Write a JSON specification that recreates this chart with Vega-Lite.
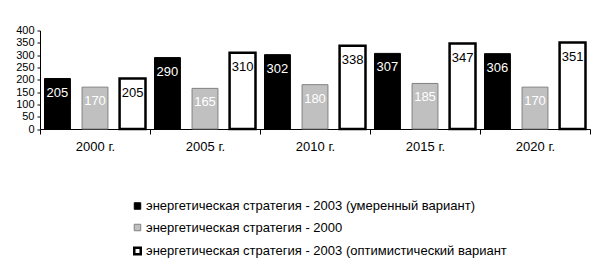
{
  "$schema": "https://vega.github.io/schema/vega-lite/v6.json",
  "width": 550,
  "height": 98.5,
  "autosize": {"type": "none"},
  "padding": {"left": 40, "top": 30.5, "right": 23, "bottom": 150},
  "background": "white",
  "config": {
    "view": {"stroke": null},
    "font": "Liberation Sans",
    "axis": {"labelFont": "Liberation Sans", "labelFontSize": 13, "labelColor": "black", "domainColor": "black", "tickColor": "black", "grid": false, "title": null},
    "axisQuantitative": {"labelOverlap": false, "labelSeparation": -6},
    "legend": {"labelFont": "Liberation Sans", "labelFontSize": 13, "labelColor": "black"}
  },
  "data": {
    "values": [
      {"year": "2000 г.", "s": "энергетическая стратегия - 2003 (умеренный вариант)", "v": 205},
      {"year": "2000 г.", "s": "энергетическая стратегия - 2000", "v": 170},
      {"year": "2000 г.", "s": "энергетическая стратегия - 2003 (оптимистический вариант", "v": 205},
      {"year": "2005 г.", "s": "энергетическая стратегия - 2003 (умеренный вариант)", "v": 290},
      {"year": "2005 г.", "s": "энергетическая стратегия - 2000", "v": 165},
      {"year": "2005 г.", "s": "энергетическая стратегия - 2003 (оптимистический вариант", "v": 310},
      {"year": "2010 г.", "s": "энергетическая стратегия - 2003 (умеренный вариант)", "v": 302},
      {"year": "2010 г.", "s": "энергетическая стратегия - 2000", "v": 180},
      {"year": "2010 г.", "s": "энергетическая стратегия - 2003 (оптимистический вариант", "v": 338},
      {"year": "2015 г.", "s": "энергетическая стратегия - 2003 (умеренный вариант)", "v": 307},
      {"year": "2015 г.", "s": "энергетическая стратегия - 2000", "v": 185},
      {"year": "2015 г.", "s": "энергетическая стратегия - 2003 (оптимистический вариант", "v": 347},
      {"year": "2020 г.", "s": "энергетическая стратегия - 2003 (умеренный вариант)", "v": 306},
      {"year": "2020 г.", "s": "энергетическая стратегия - 2000", "v": 170},
      {"year": "2020 г.", "s": "энергетическая стратегия - 2003 (оптимистический вариант", "v": 351}
    ]
  },
  "encoding": {
    "x": {
      "field": "year", "type": "nominal", "sort": null,
      "scale": {"paddingInner": 0, "paddingOuter": 0},
      "axis": {"labelAngle": 0, "tickBand": "extent", "tickSize": 5, "labelPadding": 6, "domainWidth": 1}
    },
    "xOffset": {
      "field": "s", "type": "nominal",
      "sort": ["энергетическая стратегия - 2003 (умеренный вариант)", "энергетическая стратегия - 2000", "энергетическая стратегия - 2003 (оптимистический вариант"],
      "scale": {"paddingInner": 0.31, "paddingOuter": 0.12}
    },
    "y": {
      "field": "v", "type": "quantitative",
      "scale": {"domain": [0, 400], "nice": false},
      "axis": {"values": [0, 50, 100, 150, 200, 250, 300, 350, 400], "labelOverlap": false, "labelSeparation": -6, "labelFlush": false, "labelBound": false, "tickSize": 3, "labelPadding": 3, "domainWidth": 1, "labelFontSize": 11, "labelBaseline": "middle"}
    }
  },
  "layer": [
    {
      "mark": {"type": "bar"},
      "encoding": {
        "fill": {
          "field": "s", "type": "nominal",
          "scale": {
            "domain": ["энергетическая стратегия - 2003 (умеренный вариант)", "энергетическая стратегия - 2000", "энергетическая стратегия - 2003 (оптимистический вариант"],
            "range": ["#000000", "#c0c0c0", "#ffffff"]
          },
          "legend": {
            "title": null, "orient": "none", "legendX": 91, "legendY": 169,
            "symbolType": "square", "symbolSize": 42,
            "labelOffset": 2, "rowPadding": 7.5, "padding": 0, "labelLimit": 500,
            "encode": {"symbols": {"update": {"strokeWidth": {"signal": "datum.value === 'энергетическая стратегия - 2003 (оптимистический вариант' ? 2.5 : 1"}}}}
          }
        },
        "stroke": {
          "field": "s", "type": "nominal",
          "scale": {
            "domain": ["энергетическая стратегия - 2003 (умеренный вариант)", "энергетическая стратегия - 2000", "энергетическая стратегия - 2003 (оптимистический вариант"],
            "range": ["#000000", "#808080", "#000000"]
          },
          "legend": {
            "title": null, "orient": "none", "legendX": 91, "legendY": 169,
            "symbolType": "square", "symbolSize": 42,
            "labelOffset": 2, "rowPadding": 7.5, "padding": 0, "labelLimit": 500,
            "encode": {"symbols": {"update": {"strokeWidth": {"signal": "datum.value === 'энергетическая стратегия - 2003 (оптимистический вариант' ? 2.5 : 1"}}}}
          }
        },
        "strokeWidth": {
          "condition": {"test": "datum.s === 'энергетическая стратегия - 2003 (оптимистический вариант'", "value": 2.5},
          "value": 1
        }
      }
    },
    {
      "mark": {"type": "text", "baseline": "middle", "align": "center", "dy": 14, "fontSize": 13, "font": "Liberation Sans"},
      "encoding": {
        "text": {"field": "v", "type": "quantitative"},
        "color": {
          "condition": {"test": "datum.s === 'энергетическая стратегия - 2003 (оптимистический вариант'", "value": "#000000"},
          "value": "#ffffff"
        }
      }
    }
  ]
}
